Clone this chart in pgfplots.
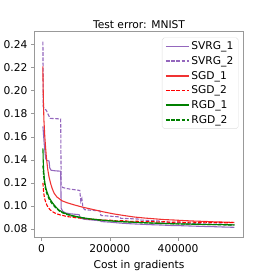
\documentclass[border=0pt]{standalone}
\usepackage{fontspec}
\setmainfont{DejaVu Sans}
\usepackage{pgfplots}
\pgfplotsset{compat=1.18}
\definecolor{svrg}{HTML}{9467BD}
\definecolor{sgdsolid}{HTML}{F03232}
\definecolor{sgd}{HTML}{FF0000}
\definecolor{rgd}{HTML}{008000}
\newcommand{\ff}{\fontsize{10.8bp}{13bp}\selectfont}
\begin{document}
\ff
\begin{tikzpicture}
\begin{axis}[
  scale only axis, width=211bp, height=208bp,
  xmin=-20300, xmax=591300, ymin=0.0727, ymax=0.2512,
  xtick={0,200000,400000}, ytick={0.08,0.10,...,0.241},
  scaled x ticks=false, scaled y ticks=false,
  xticklabel style={/pgf/number format/fixed,/pgf/number format/1000 sep={}},
  yticklabel style={/pgf/number format/fixed,/pgf/number format/fixed zerofill,/pgf/number format/precision=2},
  /pgf/number format/assume math mode=true,
  every tick label/.append style={font=\ff},
  tick align=outside, xtick pos=bottom, ytick pos=left,
  major tick length=3.5bp,
  axis line style={gray!80}, tick style={gray!80, line width=0.6bp},
  title={Test error: MNIST},
  every axis title shift=0pt,
  title style={font=\ff, at={(0.5,1)}, anchor=base, yshift=3.5bp, inner sep=0pt},
  xlabel={Cost in gradients},
  xlabel style={font=\ff},
  every axis plot/.append style={line width=1.1bp},
  legend cell align=left,
  legend image code/.code={\draw[mark repeat=2,mark phase=2,#1,line width=1.5bp] plot coordinates {(0bp,0bp) (11.5bp,0bp) (23bp,0bp)};},
  legend style={at={(1,1)}, anchor=north east, xshift=-5bp, yshift=-6bp,
    draw=gray!25, rounded corners=2bp, font=\ff,
    row sep=1.2bp, inner xsep=3bp, inner ysep=2bp},
]
\addplot[color=svrg, mark=none] coordinates {
(4000,0.169)(8000,0.153)(12000,0.141)(16000,0.1395)(22000,0.139)(24000,0.133)(28000,0.131)(40000,0.1305)(56000,0.1302)(57500,0.098)(62000,0.0955)(70000,0.094)(85000,0.0932)(110000,0.0925)(114000,0.0895)(125000,0.0885)(150000,0.0878)(172000,0.0872)(175000,0.0865)(200000,0.086)(230000,0.0852)(260000,0.0846)(290000,0.0842)(320000,0.0838)(350000,0.0835)(380000,0.0831)(410000,0.0829)(440000,0.0826)(470000,0.0823)(500000,0.0821)(530000,0.0818)(565000,0.0815)};
\addlegendentry{SVRG\_1}
\addplot[color=svrg, mark=none, dash pattern=on 3.7bp off 1.6bp] coordinates {
(4000,0.2425)(5000,0.186)(8000,0.1845)(14000,0.183)(20000,0.179)(25000,0.176)(56000,0.1755)(57500,0.118)(62000,0.116)(80000,0.1148)(100000,0.114)(112000,0.1135)(115000,0.104)(118000,0.1065)(121000,0.099)(126000,0.0968)(150000,0.0962)(171000,0.0958)(174000,0.0918)(200000,0.0912)(229000,0.0905)(232000,0.0893)(260000,0.089)(288000,0.0886)(291000,0.0878)(320000,0.0874)(346000,0.0869)(350000,0.0862)(380000,0.0858)(405000,0.0857)(410000,0.0852)(440000,0.0849)(465000,0.0850)(470000,0.0845)(500000,0.0843)(525000,0.0844)(530000,0.0839)(565000,0.0837)};
\addlegendentry{SVRG\_2}
\addplot[color=sgdsolid, mark=none] coordinates {
(3800,0.221)(4500,0.205)(5500,0.190)(7000,0.174)(9500,0.160)(12000,0.150)(14500,0.141)(18000,0.132)(22000,0.125)(27000,0.119)(32000,0.1145)(37000,0.111)(45000,0.1078)(60000,0.1045)(75000,0.1028)(95000,0.1010)(120000,0.0990)(150000,0.0970)(180000,0.0950)(210000,0.0932)(240000,0.0918)(270000,0.0905)(300000,0.0896)(330000,0.0889)(360000,0.0882)(390000,0.0878)(420000,0.0873)(450000,0.0869)(480000,0.0866)(510000,0.0862)(540000,0.0860)(565000,0.0857)};
\addlegendentry{SGD\_1}
\addplot[color=sgd, mark=none, dash pattern=on 3.7bp off 1.6bp] coordinates {
(4000,0.120)(5500,0.114)(7000,0.110)(9000,0.1065)(12000,0.1035)(16000,0.1005)(20000,0.0985)(25000,0.0968)(30000,0.0955)(37000,0.0942)(45000,0.0932)(55000,0.0922)(65000,0.0916)(75000,0.0908)(90000,0.0903)(105000,0.0896)(120000,0.0893)(140000,0.0886)(160000,0.0884)(180000,0.0878)(200000,0.0877)(220000,0.0871)(240000,0.0873)(260000,0.0866)(280000,0.0868)(300000,0.0862)(320000,0.0866)(340000,0.0860)(360000,0.0864)(380000,0.0858)(400000,0.0862)(420000,0.0857)(440000,0.0861)(460000,0.0856)(480000,0.0860)(500000,0.0855)(520000,0.0859)(540000,0.0854)(565000,0.0858)};
\addlegendentry{SGD\_2}
\addplot[color=rgd, mark=none] coordinates {
(4000,0.150)(5000,0.138)(6500,0.130)(8500,0.123)(11000,0.118)(14000,0.1140)(17500,0.1110)(22000,0.1075)(27000,0.1050)(32000,0.1028)(40000,0.0998)(51000,0.0965)(62000,0.0945)(75000,0.0930)(90000,0.0917)(110000,0.0904)(130000,0.0894)(150000,0.0886)(175000,0.0878)(200000,0.0871)(230000,0.0866)(260000,0.0860)(290000,0.0857)(320000,0.0852)(350000,0.0850)(380000,0.0846)(410000,0.0845)(440000,0.0842)(470000,0.0841)(500000,0.0839)(530000,0.0838)(565000,0.0836)};
\addlegendentry{RGD\_1}
\addplot[color=rgd, mark=none, dash pattern=on 3.7bp off 1.6bp] coordinates {
(4000,0.135)(5000,0.130)(6500,0.125)(8500,0.120)(11000,0.1155)(14000,0.1120)(17500,0.1090)(22000,0.1060)(27000,0.1035)(32000,0.1015)(40000,0.0988)(51000,0.0958)(62000,0.0940)(75000,0.0925)(90000,0.0913)(110000,0.0901)(130000,0.0892)(150000,0.0884)(175000,0.0876)(200000,0.0872)(230000,0.0864)(260000,0.0861)(290000,0.0855)(320000,0.0853)(350000,0.0848)(380000,0.0847)(410000,0.0843)(440000,0.0843)(470000,0.0839)(500000,0.0839)(530000,0.0836)(565000,0.0835)};
\addlegendentry{RGD\_2}
\end{axis}
\path ([xshift=-35bp,yshift=-34bp]current axis.south west) rectangle ([xshift=28bp,yshift=32bp]current axis.north east);
\end{tikzpicture}
\end{document}
